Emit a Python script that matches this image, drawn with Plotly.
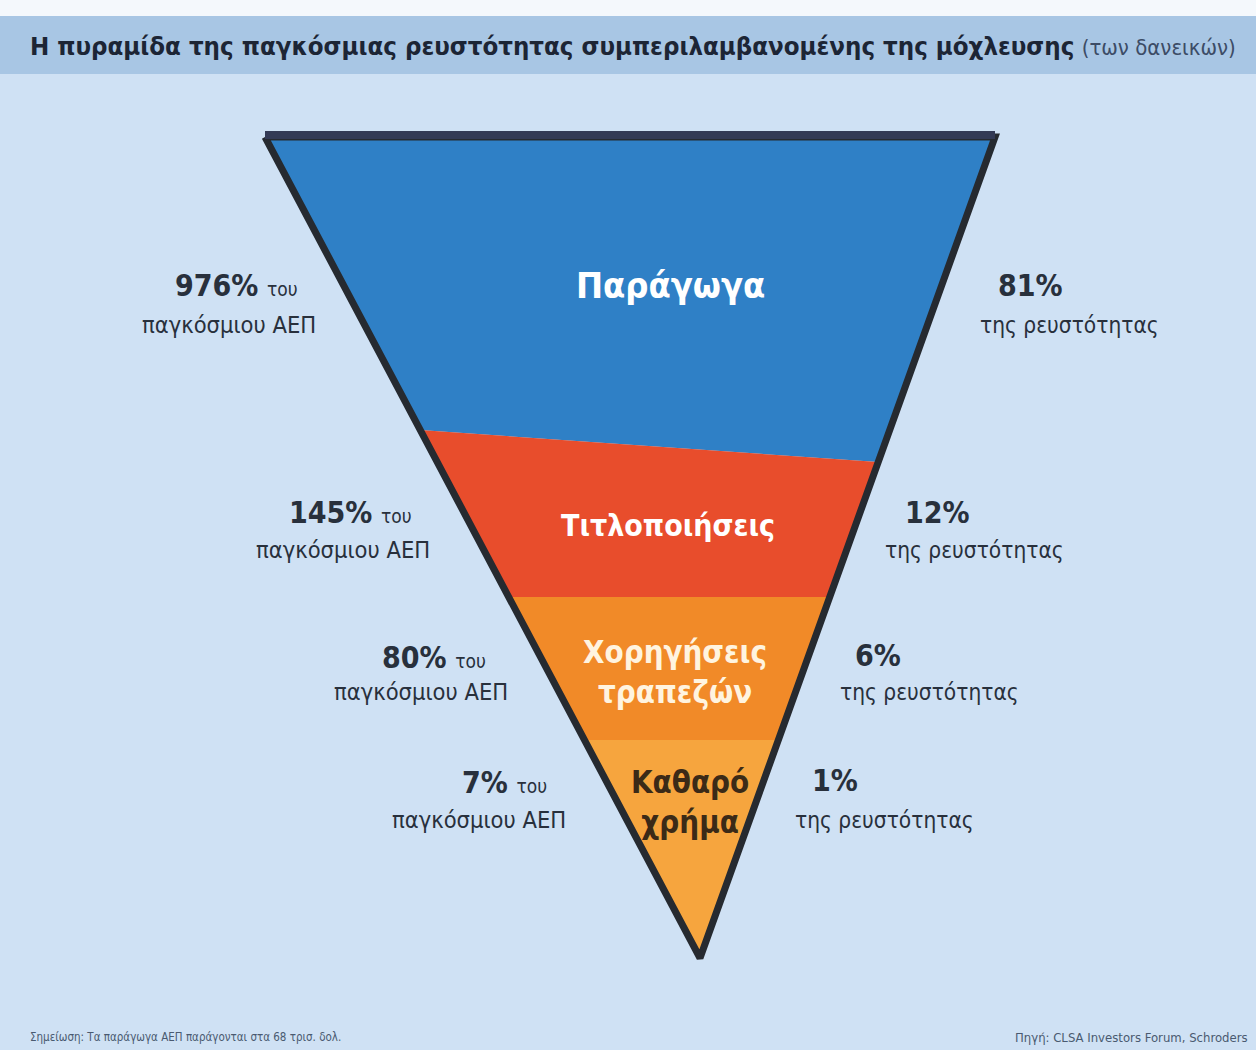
import plotly.graph_objects as go

# ---------------- data ----------------
categories = ["Παράγωγα", "Τιτλοποιήσεις", "Χορηγήσεις<br>τραπεζών", "Καθαρό<br>χρήμα"]
gdp_pct = [976, 145, 80, 7]          # % of world GDP
liquidity_pct = [81, 12, 6, 1]       # % of liquidity

title_main = "Η πυραμίδα της παγκόσμιας ρευστότητας συμπεριλαμβανομένης της μόχλευσης"
title_sub = "(των δανεικών)"
note_text = "Σημείωση: Τα παράγωγα ΑΕΠ παράγονται στα 68 τρισ. δολ."
source_text = "Πηγή: CLSA Investors Forum, Schroders"

# ---------------- geometry / style (illustrative, not data) ----------------
W, H = 1256, 1050
top_y, apex_y = 137, 958
top_left_x, top_right_x, apex_x = 265, 995, 700
bound_left_y = [137, 430, 597, 740]   # top of each layer at left edge
bound_right_y = [137, 462, 597, 740]  # top of each layer at right edge

layer_colors = ["#2f80c6", "#e84d2c", "#f18a28", "#f6a53e"]
inner_text_colors = ["#ffffff", "#ffffff", "#fff4e0", "#3b2a17"]
inner_sizes = [36, 30, 31, 31]
inner_pos = [(670, 285), (668, 525), (675, 672), (690, 802)]
left_pos = [(236, 285, 229, 325), (350, 512, 343, 550), (434, 657, 421, 692), (504, 782, 479, 820)]
right_pos = [(996, 285, 978, 325), (903, 512, 883, 550), (853, 655, 838, 692), (810, 780, 793, 820)]

BG = "#cfe1f4"
TXT = "#28303c"
FONT = "DejaVu Sans Condensed, Roboto, sans-serif"


def xl(y):
    return top_left_x + (apex_x - top_left_x) * (y - top_y) / (apex_y - top_y)


def xr(y):
    return top_right_x + (apex_x - top_right_x) * (y - top_y) / (apex_y - top_y)


fig = go.Figure()

n = len(categories)
for i in range(n):
    yl0, yr0 = bound_left_y[i], bound_right_y[i]
    if i + 1 < n:
        yl1, yr1 = bound_left_y[i + 1], bound_right_y[i + 1]
        xs = [xl(yl0), xr(yr0), xr(yr1), xl(yl1), xl(yl0)]
        ys = [yl0, yr0, yr1, yl1, yl0]
    else:
        xs = [xl(yl0), xr(yr0), apex_x, xl(yl0)]
        ys = [yl0, yr0, apex_y, yl0]
    fig.add_trace(go.Scatter(x=xs, y=ys, fill="toself", fillcolor=layer_colors[i],
                             mode="lines", line=dict(width=0), hoverinfo="skip",
                             showlegend=False))

# outline
fig.add_trace(go.Scatter(x=[top_left_x, top_right_x, apex_x, top_left_x],
                         y=[top_y, top_y, apex_y, top_y], mode="lines",
                         line=dict(color="#262a30", width=7), hoverinfo="skip",
                         showlegend=False))
fig.add_trace(go.Scatter(x=[top_left_x, top_right_x], y=[top_y - 2, top_y - 2], mode="lines",
                         line=dict(color="#333a55", width=8), hoverinfo="skip",
                         showlegend=False))

ann = []
for i in range(n):
    cx, cy = inner_pos[i]
    ann.append(dict(x=cx, y=cy, text="<b>%s</b>" % categories[i], showarrow=False,
                    font=dict(family=FONT, size=inner_sizes[i], color=inner_text_colors[i]),
                    xref="x", yref="y", align="center"))
    x1, y1, x2, y2 = left_pos[i]
    ann.append(dict(x=x1, y=y1, text="<b>%d%%</b> <span style='font-size:19px'>του</span>" % gdp_pct[i],
                    showarrow=False, font=dict(family=FONT, size=30, color=TXT),
                    xref="x", yref="y"))
    ann.append(dict(x=x2, y=y2, text="παγκόσμιου ΑΕΠ", showarrow=False,
                    font=dict(family=FONT, size=23.5, color=TXT), xref="x", yref="y"))
    x1, y1, x2, y2 = right_pos[i]
    ann.append(dict(x=x1, y=y1, text="<b>%d%%</b>" % liquidity_pct[i], showarrow=False,
                    xanchor="left", font=dict(family=FONT, size=30, color=TXT),
                    xref="x", yref="y"))
    ann.append(dict(x=x2, y=y2, text="της ρευστότητας", showarrow=False, xanchor="left",
                    font=dict(family=FONT, size=22.5, color=TXT), xref="x", yref="y"))

ann.append(dict(x=28, y=46, xref="x", yref="y", xanchor="left", showarrow=False,
                text="<b>%s</b> <span style='font-size:22px;color:#3c4c66'>%s</span>" % (title_main, title_sub),
                font=dict(family=FONT, size=25.6, color="#1c2535")))
ann.append(dict(x=28, y=1037, xref="x", yref="y", xanchor="left", showarrow=False,
                text=note_text, font=dict(family=FONT, size=11.5, color="#4a5a70")))
ann.append(dict(x=1250, y=1037, xref="x", yref="y", xanchor="right", showarrow=False,
                text=source_text, font=dict(family=FONT, size=13, color="#4a5a70")))

shapes = [
    dict(type="rect", xref="x", yref="y", x0=0, x1=W, y0=0, y1=16, fillcolor="#f4f8fc", line=dict(width=0), layer="below"),
    dict(type="rect", xref="x", yref="y", x0=0, x1=W, y0=16, y1=74, fillcolor="#a8c6e4", line=dict(width=0), layer="below"),
]

fig.update_layout(
    width=W, height=H, margin=dict(l=0, r=0, t=0, b=0),
    paper_bgcolor=BG, plot_bgcolor=BG,
    xaxis=dict(range=[0, W], visible=False, fixedrange=True),
    yaxis=dict(range=[H, 0], visible=False, fixedrange=True),
    annotations=ann, shapes=shapes, showlegend=False,
)

fig.write_html("out.html", config={"displayModeBar": False},
               post_script="document.body.style.margin='0';")
